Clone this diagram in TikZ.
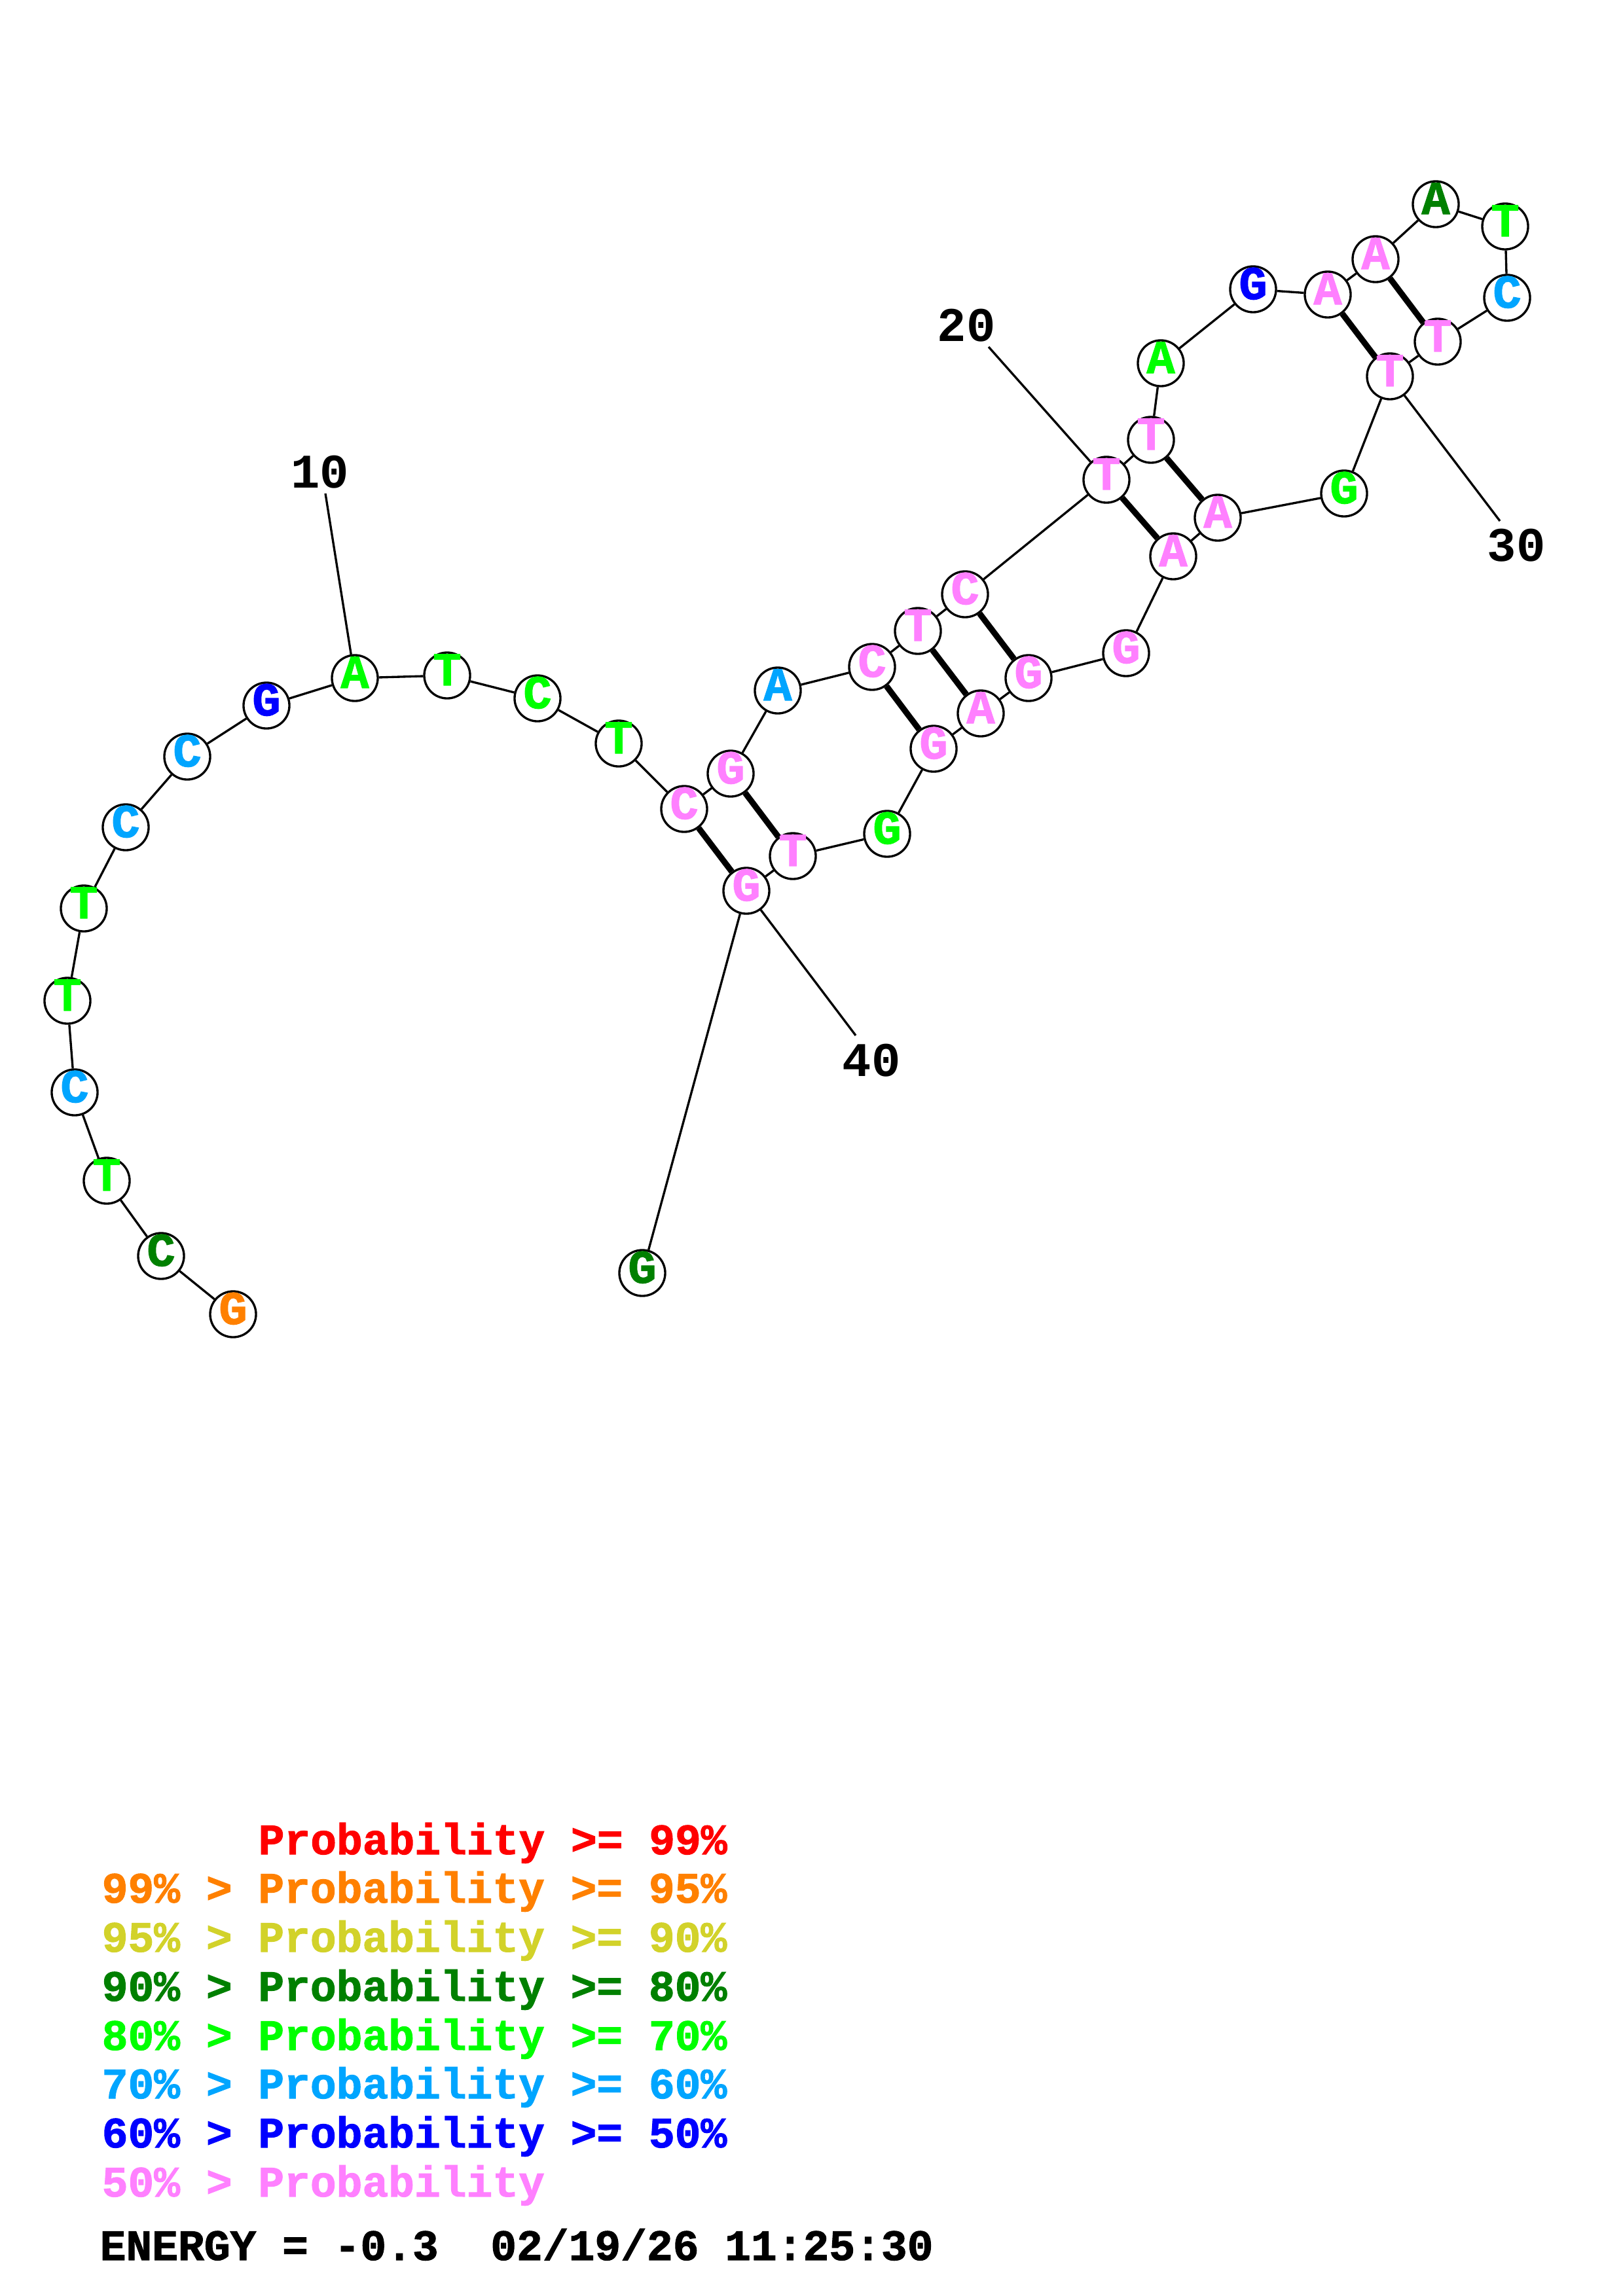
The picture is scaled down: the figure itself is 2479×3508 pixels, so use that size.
\documentclass[tikz,border=0pt]{standalone}
\usepackage{fontspec}
\newfontfamily\rnamono{Liberation Mono}[FakeBold=1.5]
\newfontfamily\rnamonob{Liberation Mono}
\newcommand\rnanodefont{\rnamono\bfseries\fontsize{20.5pt}{22pt}\selectfont}
\newcommand\rnalabfont{\rnamonob\bfseries\fontsize{21pt}{24pt}\selectfont}
\newcommand\rnalegfont{\rnamono\bfseries\fontsize{18.85pt}{22pt}\selectfont}
\definecolor{cpink}{RGB}{255,128,255}
\definecolor{cgreen}{RGB}{0,255,0}
\definecolor{cdkgreen}{RGB}{0,128,0}
\definecolor{cltblue}{RGB}{0,165,255}
\definecolor{cblue}{RGB}{0,0,255}
\definecolor{corange}{RGB}{255,128,0}
\definecolor{cyellow}{RGB}{210,210,42}
\definecolor{cred}{RGB}{255,0,0}
\begin{document}
\begin{tikzpicture}[x=0.01cm,y=-0.01cm,
  base/.style={circle,draw,line width=0.95pt,fill=white,minimum size=0.70cm,inner sep=0pt,
    font=\rnanodefont,text height=0.86em,text depth=0pt},
  bb/.style={line width=0.95pt},
  bp/.style={line width=2.6pt},
  lbl/.style={font=\rnalabfont,inner sep=0pt},
  leg/.style={font=\rnalegfont,anchor=base west,inner sep=0pt}]
\useasboundingbox (0,0) rectangle (2479,3508);
% nucleotides
\node[base,text=corange]  (n1)  at (356,2008) {G};
\node[base,text=cdkgreen] (n2)  at (246,1919) {C};
\node[base,text=cgreen]   (n3)  at (163,1804) {T};
\node[base,text=cltblue]  (n4)  at (114,1669) {C};
\node[base,text=cgreen]   (n5)  at (103,1529) {T};
\node[base,text=cgreen]   (n6)  at (128,1388) {T};
\node[base,text=cltblue]  (n7)  at (192,1264) {C};
\node[base,text=cltblue]  (n8)  at (286,1156) {C};
\node[base,text=cblue]    (n9)  at (407,1078) {G};
\node[base,text=cgreen]   (n10) at (542,1036) {A};
\node[base,text=cgreen]   (n11) at (683,1032) {T};
\node[base,text=cgreen]   (n12) at (821,1067) {C};
\node[base,text=cgreen]   (n13) at (945,1136) {T};
\node[base,text=cpink]    (n14) at (1045,1236) {C};
\node[base,text=cpink]    (n15) at (1116,1182) {G};
\node[base,text=cltblue]  (n16) at (1188,1055) {A};
\node[base,text=cpink]    (n17) at (1332,1019) {C};
\node[base,text=cpink]    (n18) at (1402,964) {T};
\node[base,text=cpink]    (n19) at (1474,908) {C};
\node[base,text=cpink]    (n20) at (1690,733) {T};
\node[base,text=cpink]    (n21) at (1758,672) {T};
\node[base,text=cgreen]   (n22) at (1773,555) {A};
\node[base,text=cblue]    (n23) at (1914,442) {G};
\node[base,text=cpink]    (n24) at (2028,450) {A};
\node[base,text=cpink]    (n25) at (2101,396) {A};
\node[base,text=cdkgreen] (n26) at (2193,312) {A};
\node[base,text=cgreen]   (n27) at (2299,346) {T};
\node[base,text=cltblue]  (n28) at (2302,455) {C};
\node[base,text=cpink]    (n29) at (2196,522) {T};
\node[base,text=cpink]    (n30) at (2123,575) {T};
\node[base,text=cgreen]   (n31) at (2053,754) {G};
\node[base,text=cpink]    (n32) at (1860,791) {A};
\node[base,text=cpink]    (n33) at (1792,850) {A};
\node[base,text=cpink]    (n34) at (1720,998) {G};
\node[base,text=cpink]    (n35) at (1571,1036) {G};
\node[base,text=cpink]    (n36) at (1498,1090) {A};
\node[base,text=cpink]    (n37) at (1426,1144) {G};
\node[base,text=cgreen]   (n38) at (1355,1274) {G};
\node[base,text=cpink]    (n39) at (1211,1308) {T};
\node[base,text=cpink]    (n40) at (1140,1361) {G};
\node[base,text=cdkgreen] (n41) at (981,1945) {G};
% backbone
\foreach \i [evaluate=\i as \j using int(\i+1)] in {1,...,40}
  \draw[bb] (n\i) -- (n\j);
% base pairs
\foreach \a/\b in {14/40,15/39,17/37,18/36,19/35,20/33,21/32,24/30,25/29}
  \draw[bp] (n\a) -- (n\b);
% position labels
\node[lbl] (l10) at (489,721) {10};
\node[lbl] (l20) at (1476,497) {20};
\node[lbl] (l30) at (2316,833) {30};
\node[lbl] (l40) at (1331,1620) {40};
\coordinate (c10) at (497,754);
\coordinate (c20) at (1510,530);
\coordinate (c30) at (2291,796);
\coordinate (c40) at (1307,1582);
\draw[bb] (c10) -- (n10);
\draw[bb] (c20) -- (n20);
\draw[bb] (c30) -- (n30);
\draw[bb] (c40) -- (n40);
% legend
\node[leg,text=cred]     (g1) at (394,2833) {Probability >= 99\%};
\node[leg,text=corange]  (g2) at (155,2907) {99\% > Probability >= 95\%};
\node[leg,text=cyellow]  (g3) at (155,2982) {95\% > Probability >= 90\%};
\node[leg,text=cdkgreen] (g4) at (155,3057) {90\% > Probability >= 80\%};
\node[leg,text=cgreen]   (g5) at (155,3132) {80\% > Probability >= 70\%};
\node[leg,text=cltblue]  (g6) at (155,3206) {70\% > Probability >= 60\%};
\node[leg,text=cblue]    (g7) at (155,3281) {60\% > Probability >= 50\%};
\node[leg,text=cpink]    (g8) at (155,3356) {50\% > Probability};
\node[leg,text=black]    (g9) at (152,3453) {ENERGY = -0.3\ \ 02/19/26 11:25:30};
\end{tikzpicture}
\end{document}
